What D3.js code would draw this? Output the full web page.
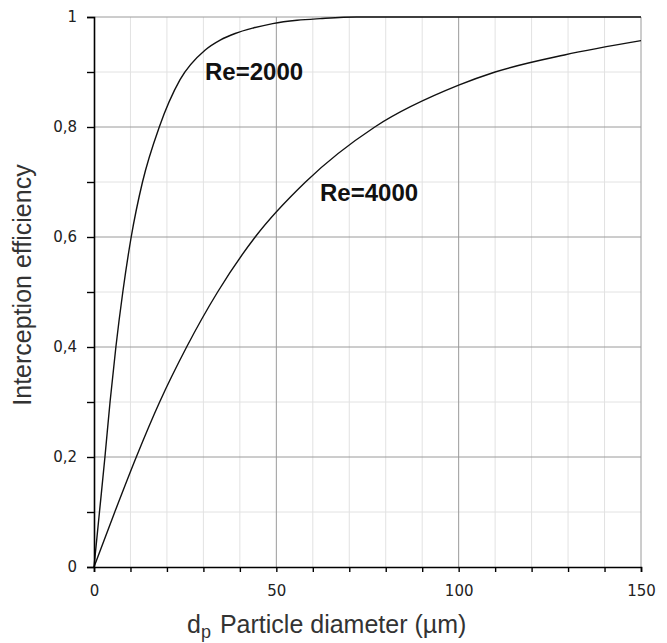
<!DOCTYPE html>
<html>
  <head>
    <script src="https://cdn.jsdelivr.net/npm/d3@7"></script>
    <style>
      body { margin: 0; background: #fff; }
    </style>
  </head>
  <body>
  <script>
  var width = 667, height = 643;

  // particle diameter (um) and interception efficiency
  var dp2000 = [0, 1.5, 3, 4.4, 6, 7.9, 10.2, 13.3, 17.9, 23.6, 30.5, 34.6, 38.7, 43.7, 49, 55.7, 62, 72, 150];
  var eff2000 = [0, 0.1, 0.2, 0.3, 0.4, 0.5, 0.6, 0.7, 0.8, 0.886, 0.94, 0.958, 0.97, 0.98, 0.988, 0.994, 0.997, 1, 1];
  var dp4000 = [0, 5.7, 11.6, 18, 25.4, 33.9, 44.2, 58, 77, 100, 110, 129, 150];
  var eff4000 = [0, 0.1, 0.2, 0.3, 0.4, 0.5, 0.6, 0.7, 0.8, 0.876, 0.9, 0.931, 0.957];

  var seriesNames = ["Re=2000", "Re=4000"];
  var xTicks = d3.range(0, 151, 10);
  var yTicks = d3.range(0, 11).map(function(i) { return i / 10; });

  var svg = d3.select('body').append('svg')
      .attr('width', width)
      .attr('height', height);

  var x = d3.scaleLinear().domain([0, 150]).range([94, 641]);
  var y = d3.scaleLinear().domain([0, 1]).range([567, 17]);

  // grid: minor lines first, major on top
  var isMajorX = function(d) { return d % 50 === 0; };
  var isMajorY = function(d) { return Math.round(d * 10) % 2 === 0; };

  var grid = svg.append('g');
  grid.selectAll('.vminor')
      .data(xTicks.filter(function(d) { return !isMajorX(d); }))
    .enter().append('line')
      .attr('x1', x).attr('x2', x)
      .attr('y1', y(0)).attr('y2', y(1))
      .attr('stroke', '#e2e2e2');
  grid.selectAll('.hminor')
      .data(yTicks.filter(function(d) { return !isMajorY(d); }))
    .enter().append('line')
      .attr('x1', x(0)).attr('x2', x(150))
      .attr('y1', y).attr('y2', y)
      .attr('stroke', '#e2e2e2');
  grid.selectAll('.vmajor')
      .data(xTicks.filter(function(d) { return isMajorX(d) && d > 0; }))
    .enter().append('line')
      .attr('x1', x).attr('x2', x)
      .attr('y1', y(0)).attr('y2', y(1))
      .attr('stroke', '#9a9a9a');
  grid.selectAll('.hmajor')
      .data(yTicks.filter(function(d) { return isMajorY(d) && d > 0; }))
    .enter().append('line')
      .attr('x1', x(0)).attr('x2', x(150))
      .attr('y1', y).attr('y2', y)
      .attr('stroke', '#9a9a9a');

  // curves
  var line = d3.line()
      .x(function(d) { return x(d[0]); })
      .y(function(d) { return y(d[1]); })
      .curve(d3.curveMonotoneX);

  var series = [d3.zip(dp2000, eff2000), d3.zip(dp4000, eff4000)];
  svg.selectAll('.curve')
      .data(series)
    .enter().append('path')
      .attr('class', 'curve')
      .attr('d', line)
      .attr('fill', 'none')
      .attr('stroke', '#111')
      .attr('stroke-width', 1.4);

  // axes
  var tickFont = '"DejaVu Sans", sans-serif';
  var yAxis = svg.append('g')
      .attr('transform', 'translate(' + x(0) + ',0)')
      .call(d3.axisLeft(y)
        .tickValues(yTicks)
        .tickSize(7)
        .tickPadding(10)
        .tickFormat(function(d) { return isMajorY(d) ? d3.format('.1~f')(d).replace('.', ',') : ''; }));
  var xAxis = svg.append('g')
      .attr('transform', 'translate(0,' + y(0) + ')')
      .call(d3.axisBottom(x)
        .tickValues(xTicks)
        .tickSize(5)
        .tickPadding(13)
        .tickFormat(function(d) { return isMajorX(d) ? d : ''; }));

  [xAxis, yAxis].forEach(function(a) {
    a.select('.domain').attr('stroke', '#000').attr('stroke-width', 1.6);
    a.selectAll('.tick line').attr('stroke', '#000').attr('stroke-width', 1.4);
    a.selectAll('text')
      .attr('font-family', tickFont)
      .attr('font-size', 15)
      .attr('fill', '#222');
  });

  // series labels
  var labelPos = [[205, 80], [320, 201]];
  svg.selectAll('.rel')
      .data(seriesNames)
    .enter().append('text')
      .attr('x', function(d, i) { return labelPos[i][0]; })
      .attr('y', function(d, i) { return labelPos[i][1]; })
      .attr('font-family', 'Liberation Sans, Arial, sans-serif')
      .attr('font-weight', 'bold')
      .attr('font-size', 24)
      .attr('fill', '#111')
      .text(function(d) { return d; });

  // axis titles
  svg.append('text')
      .attr('transform', 'translate(31,285) rotate(-90)')
      .attr('text-anchor', 'middle')
      .attr('font-family', 'Liberation Sans, Arial, sans-serif')
      .attr('font-size', 25)
      .attr('fill', '#333')
      .text('Interception efficiency');

  var xt = svg.append('text')
      .attr('x', 187)
      .attr('y', 633)
      .attr('font-family', 'Liberation Sans, Arial, sans-serif')
      .attr('font-size', 25)
      .attr('fill', '#333');
  xt.append('tspan').text('d');
  xt.append('tspan').attr('dy', 5).attr('font-size', 18).text('p');
  xt.append('tspan').attr('dy', -5).attr('dx', 9).text('Particle diameter (µm)');
  </script>
  </body>
</html>
